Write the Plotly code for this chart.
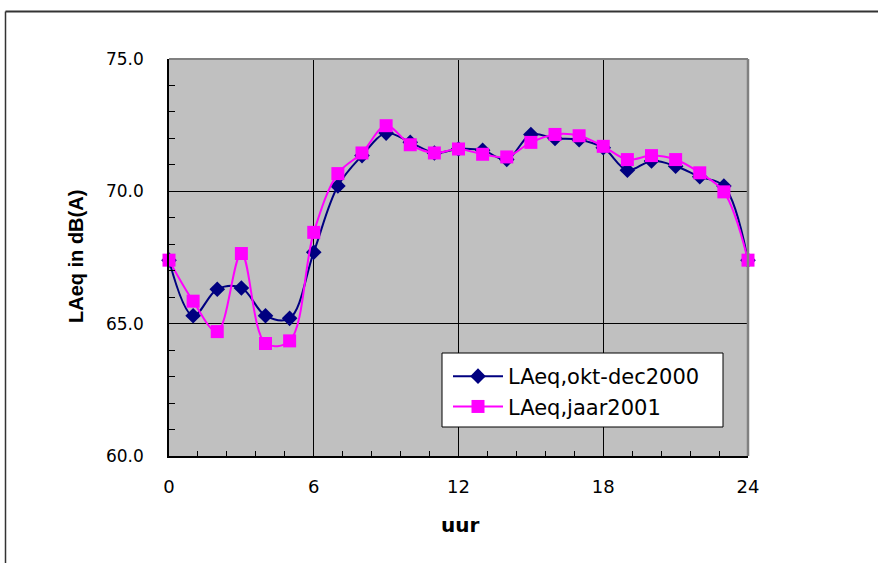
import plotly.graph_objects as go

hours = list(range(25))
laeq_2000 = [67.4, 65.3, 66.3, 66.35, 65.3, 65.2, 67.7, 70.2, 71.35, 72.2, 71.85, 71.45,
             71.6, 71.55, 71.2, 72.15, 72.0, 71.95, 71.65, 70.8, 71.15, 70.95, 70.55, 70.2, 67.4]
laeq_2001 = [67.4, 65.85, 64.7, 67.65, 64.25, 64.35, 68.45, 70.67, 71.45, 72.48, 71.76, 71.45,
             71.6, 71.4, 71.3, 71.85, 72.15, 72.1, 71.7, 71.2, 71.35, 71.2, 70.7, 69.98, 67.4]
name_2000 = "LAeq,okt-dec2000"
name_2001 = "LAeq,jaar2001"
x_ticks = [0, 6, 12, 18, 24]
y_ticks = [60, 65, 70, 75]
x_title = "uur"
y_title = "LAeq in dB(A)"

fig = go.Figure()
fig.add_trace(go.Scatter(
    x=hours, y=laeq_2000, name=name_2000, mode="lines+markers", cliponaxis=False,
    line=dict(color="#000080", width=2, shape="spline", smoothing=1),
    marker=dict(symbol="diamond", size=12, color="#000080"),
))
fig.add_trace(go.Scatter(
    x=hours, y=laeq_2001, name=name_2001, mode="lines+markers", cliponaxis=False,
    line=dict(color="#FF00FF", width=2, shape="spline", smoothing=1),
    marker=dict(symbol="square", size=13, color="#FF00FF"),
))

L, R, T, B = 169, 130, 59, 107
W, H = 878, 563
pw, ph = W - L - R, H - T - B

def px_x(p):
    return (p - L) / pw

def px_y(p):
    return (H - B - p) / ph

fig.update_layout(
    width=W, height=H,
    margin=dict(l=L, r=R, t=T, b=B),
    paper_bgcolor="white",
    plot_bgcolor="#C0C0C0",
    font=dict(family="Liberation Sans, Arial, sans-serif", color="black"),
    showlegend=True,
    legend=dict(
        x=px_x(448), y=px_y(356), xanchor="left", yanchor="top",
        bgcolor="rgba(0,0,0,0)", borderwidth=0,
        font=dict(family="DejaVu Sans", size=21, color="black"),
        itemwidth=50, tracegroupgap=0,
    ),
    xaxis=dict(
        range=[0, 24], tickvals=x_ticks, ticktext=[str(v) for v in x_ticks],
        showgrid=True, gridcolor="black", gridwidth=1,
        showline=True, linecolor="black", linewidth=1.5,
        ticks="inside", ticklen=5, tickcolor="black",
        minor=dict(dtick=1.2, tick0=0, ticks="inside", ticklen=5, tickcolor="black", showgrid=False),
        tickfont=dict(family="DejaVu Sans", size=18),
        ticklabelstandoff=14,
        zeroline=False, fixedrange=True,
    ),
    yaxis=dict(
        range=[60, 75], tickvals=y_ticks, tickformat=".1f",
        showgrid=True, gridcolor="black", gridwidth=1,
        showline=True, linecolor="black", linewidth=1.5,
        ticks="inside", ticklen=6, tickcolor="black",
        minor=dict(dtick=1, ticks="inside", ticklen=6, tickcolor="black", showgrid=False),
        tickfont=dict(family="DejaVu Sans", size=17),
        ticklabelstandoff=20,
        zeroline=False, fixedrange=True,
    ),
    annotations=[
        dict(text="<b>" + y_title + "</b>", xref="paper", yref="paper",
             x=px_x(76), y=px_y(257), xanchor="center", yanchor="middle",
             textangle=-90, showarrow=False,
             font=dict(family="Liberation Sans", size=20, color="black")),
        dict(text="<b>" + x_title + "</b>", xref="paper", yref="paper",
             x=px_x(460), y=px_y(525), xanchor="center", yanchor="middle",
             showarrow=False,
             font=dict(family="DejaVu Sans", size=20, color="black")),
    ],
    shapes=[
        # gray top and right plot border
        dict(type="line", xref="paper", yref="paper", x0=0, x1=1, y0=1, y1=1,
             line=dict(color="#808080", width=2)),
        dict(type="line", xref="paper", yref="paper", x0=1, x1=1, y0=0, y1=1,
             line=dict(color="#808080", width=2.5)),
        # legend box
        dict(type="rect", xref="paper", yref="paper", layer="above",
             x0=px_x(442), x1=px_x(723), y0=px_y(427), y1=px_y(353),
             fillcolor="white", line=dict(color="black", width=1)),
        # outer chart frame
        dict(type="line", xref="paper", yref="paper", x0=px_x(5.5), x1=px_x(880),
             y0=px_y(11.5), y1=px_y(11.5), line=dict(color="#333333", width=2)),
        dict(type="line", xref="paper", yref="paper", x0=px_x(5.5), x1=px_x(5.5),
             y0=px_y(11.5), y1=px_y(570), line=dict(color="#333333", width=1.5)),
    ],
)

fig.write_html("out.html")
